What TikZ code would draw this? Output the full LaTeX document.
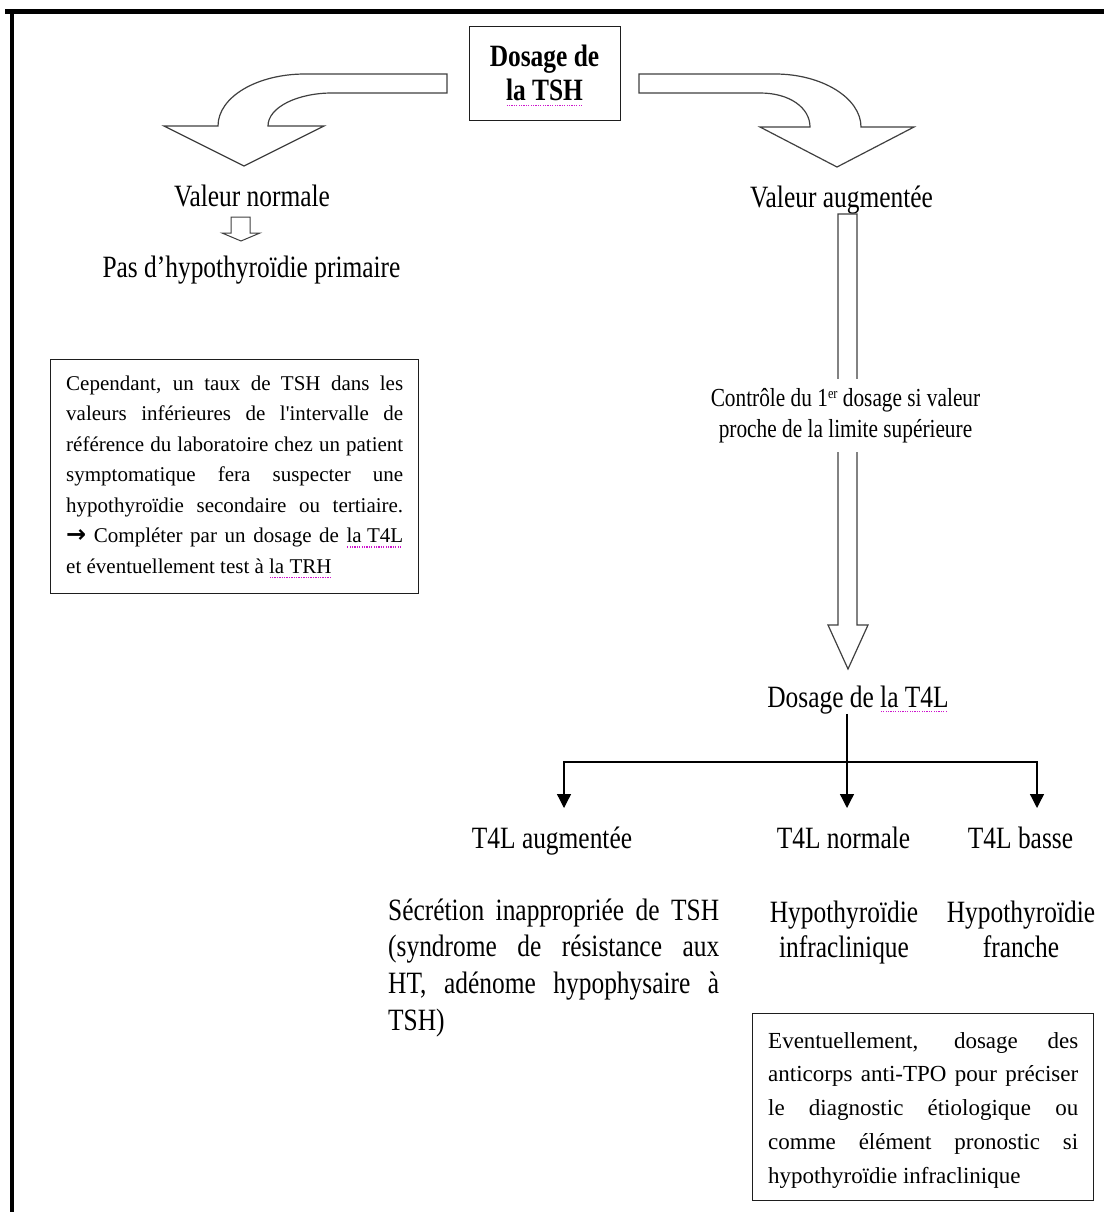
\documentclass[tikz,border=0pt]{standalone}
\usepackage{fontspec}
\setmainfont{Liberation Serif}
\newfontfamily\bigf[FakeStretch=0.82]{Liberation Serif}
\newfontfamily\symf{DejaVu Sans}
\usetikzlibrary{arrows.meta}
\definecolor{spellc}{RGB}{205,20,205}
\definecolor{ink}{RGB}{30,30,30}
\newsavebox\spellbox
\newcommand\spell[1]{\leavevmode\sbox\spellbox{#1}\rlap{\raisebox{-5pt}{\color{spellc}\hbox to \wd\spellbox{\leaders\hbox to 2.4pt{\hss\rule{1.3pt}{1.3pt}\hss}\hfill}}}\usebox\spellbox}
\newcommand\jl[2]{\makebox[#1][s]{#2}}
\newcommand\supr[1]{\raisebox{8pt}{\fontsize{15}{15}\selectfont #1}}
\begin{document}
\begin{tikzpicture}[x=1pt,y=-1pt,
  frame/.style={draw=ink, line width=1.4pt, fill=white, inner sep=0pt},
  hollow/.style={draw=ink!85, line width=1.2pt, fill=white, line join=miter},
  txt/.style={inner sep=0pt, anchor=base, text=black},
  conn/.style={draw=black, line width=1.3pt},
  tip/.style={-{Triangle[length=14pt,width=14pt]}}]
\fill[white] (0,0) rectangle (1104,1212);
\useasboundingbox (0,0) rectangle (1104,1212);

% page border
\draw[line width=5pt] (5,12) -- (1104,12);
\draw[line width=4.5pt] (12,10) -- (12,1212);

% TSH box
\node[frame, minimum width=151pt, minimum height=94pt, anchor=north west] (tsh) at (469,26) {};
\node[txt] (tshtxt) at (544.5,67) {\parbox[t]{140pt}{\centering\bigf\bfseries\fontsize{31}{34}\selectfont Dosage de\\\spell{la TSH}}};

% curved hollow arrows
\draw[hollow] (447,74) -- (305,74) .. controls (257,74) and (218,97) .. (218,126) -- (164,126) -- (244,166) -- (324,126) -- (268,126) .. controls (268,107) and (298,93) .. (332,93) -- (447,93) -- cycle;
\draw[hollow] (639,74) -- (775,74) .. controls (822,74) and (861,98) .. (861,127) -- (914,127) -- (837,167) -- (760,127) -- (810,127) .. controls (810,108) and (790,93) .. (760,93) -- (639,93) -- cycle;

% left branch
\node[txt] (vn) at (252,206) {\bigf\fontsize{31}{36}\selectfont Valeur normale};
\draw[hollow, line width=1pt] (231,217) -- (250,217) -- (250,233) -- (260,233) -- (241,241) -- (222,233) -- (231,233) -- cycle;
\node[txt] (pas) at (251.5,277) {\bigf\fontsize{31}{36}\selectfont Pas d’hypothyroïdie primaire};

\node[frame, line width=1.2pt, minimum width=368pt, minimum height=234pt, anchor=north west] (lbox) at (50,359) {};
\node[txt, anchor=base west] (ltxt) at (66,390) {\parbox[t]{337pt}{\fontsize{21}{30.5}\selectfont
\jl{337pt}{Cependant, un taux de TSH dans les}\\
\jl{337pt}{valeurs inférieures de l\textquotesingle intervalle de}\\
\jl{337pt}{référence du laboratoire chez un patient}\\
\jl{337pt}{symptomatique fera suspecter une}\\
\jl{337pt}{hypothyroïdie secondaire ou tertiaire.}\\
\jl{337pt}{{\symf\bfseries\fontsize{24}{24}\selectfont →} Compléter par un dosage de \spell{la T4L}}\\
et éventuellement test à \spell{la TRH}}};

% right branch
\node[txt] (va) at (841.5,207) {\bigf\fontsize{31}{36}\selectfont Valeur augmentée};
\draw[hollow] (838,214) -- (857,214) -- (857,625) -- (868,625) -- (848,669) -- (828,625) -- (838,625) -- cycle;
\node[txt, fill=white, inner xsep=2pt, inner ysep=9pt] (ctrl) at (845.5,406) {\parbox[t]{290pt}{\centering\bigf\fontsize{26}{31}\selectfont Contrôle du 1\supr{er} dosage si valeur\\proche de la limite supérieure}};

\node[txt] (t4l) at (858,707) {\bigf\fontsize{31}{36}\selectfont Dosage de \spell{la T4L}};

\coordinate (split) at (847,762);
\coordinate (endL) at (564,808);
\coordinate (endM) at (847,808);
\coordinate (endR) at (1037,808);
\draw[conn] (t4l.south -| split) -- (split);
\draw[conn, tip] (split) -| (endL);
\draw[conn, tip] (split) -- (endM);
\draw[conn, tip] (split) -| (endR);

\node[txt] (ta) at (552,848) {\bigf\fontsize{31}{36}\selectfont T4L augmentée};
\node[txt] (tn) at (843.5,848) {\bigf\fontsize{31}{36}\selectfont T4L normale};
\node[txt] (tb) at (1020.5,848) {\bigf\fontsize{31}{36}\selectfont T4L basse};

\node[txt, anchor=base west] (secr) at (388,920) {\parbox[t]{331pt}{\bigf\fontsize{31}{36.7}\selectfont
\jl{331pt}{Sécrétion inappropriée de TSH}\\
\jl{331pt}{(syndrome de résistance aux}\\
\jl{331pt}{HT, adénome hypophysaire à}\\
TSH)}};

\node[txt] (hi) at (844,922) {\parbox[t]{170pt}{\centering\bigf\fontsize{31}{35.5}\selectfont Hypothyroïdie\\infraclinique}};
\node[txt] (hf) at (1021,922) {\parbox[t]{160pt}{\centering\bigf\fontsize{31}{35.5}\selectfont Hypothyroïdie\\franche}};

\node[frame, minimum width=341pt, minimum height=187pt, anchor=north west] (rbox) at (752,1013) {};
\node[txt, anchor=base west] (rtxt) at (768,1048) {\parbox[t]{310pt}{\fontsize{23}{33.75}\selectfont
\jl{310pt}{Eventuellement, dosage des}\\
\jl{310pt}{anticorps anti-TPO pour préciser}\\
\jl{310pt}{le diagnostic étiologique ou}\\
\jl{310pt}{comme élément pronostic si}\\
hypothyroïdie infraclinique}};
\end{tikzpicture}
\end{document}
